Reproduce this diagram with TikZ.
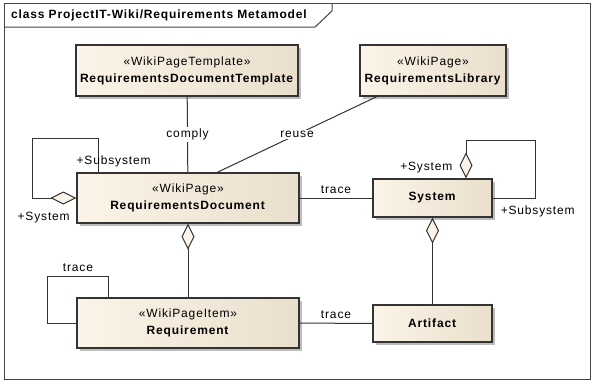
\documentclass[tikz,border=0pt]{standalone}
\usepackage{fontspec}
\setmainfont{Liberation Sans}[LetterSpace=7]
\usetikzlibrary{arrows.meta,shadows,calc}
\definecolor{boxl}{HTML}{FBF4E8}
\definecolor{boxr}{HTML}{EADFCC}
\definecolor{edge}{HTML}{333333}
\definecolor{shad}{HTML}{BDBDBD}
\definecolor{frm}{HTML}{444444}
\begin{document}
\begin{tikzpicture}[x=1pt,y=-1pt,
  cls/.style={draw=edge, line width=1.1pt, left color=boxl, right color=boxr,
    drop shadow={shadow xshift=3pt, shadow yshift=-3pt, fill=shad, opacity=1},
    align=center, font=\fontsize{12}{17}\selectfont, inner sep=0pt},
  lbl/.style={font=\fontsize{12}{14}\selectfont, inner sep=1pt, text=black},
  conn/.style={draw=edge, line width=1pt},
  agg/.style={{Diamond[fill=boxl, length=26pt, width=13pt, line width=1pt]}-}
]
\useasboundingbox (0,0) rectangle (593,383);
% frame
\draw[frm, line width=1pt] (4,3) rectangle (590,379);
\draw[frm, line width=1pt] (4,27) -- (315,27) -- (332,11) -- (332,3);
\node[lbl, anchor=west, font=\fontsize{12}{14}\selectfont\bfseries] (title) at (10,15) {class ProjectIT-Wiki/Requirements Metamodel};
% classes
\node[cls, minimum width=222pt, minimum height=51pt] (rdt) at (187,70.5) {«WikiPageTemplate»\\\textbf{RequirementsDocumentTemplate}};
\node[cls, minimum width=146pt, minimum height=51pt] (rl) at (433,70.5) {«WikiPage»\\\textbf{RequirementsLibrary}};
\node[cls, minimum width=222pt, minimum height=50pt] (rd) at (188,198) {«WikiPage»\\\textbf{RequirementsDocument}};
\node[cls, minimum width=119pt, minimum height=38pt] (sys) at (432.5,198) {\textbf{System}};
\node[cls, minimum width=222pt, minimum height=50pt] (req) at (188,323) {«WikiPageItem»\\\textbf{Requirement}};
\node[cls, minimum width=119pt, minimum height=37pt] (art) at (432.5,323.5) {\textbf{Artifact}};
% connectors
\draw[conn] (rdt) -- node[lbl, fill=white, inner sep=2pt] {comply} (rd);
\draw[conn] ($(rd.north)+(29,0)$) -- node[lbl, fill=white, inner sep=1pt] {reuse} ($(rl.south)+(-56,0)$);
\draw[conn] (rd.east) -- node[lbl, above=3pt] {trace} (sys.west);
\draw[conn] (req.east) -- node[lbl, above=3pt] {trace} (art.west);
\draw[conn, agg] (rd.south) -- (req.north);
\draw[conn, agg] (sys.south) -- (art.north);
% self associations
\draw[conn, agg] (rd.west) -- ++(-44,0) |- ($(rd.north west)+(22,-34)$) -- ($(rd.north west)+(22,0)$);
\node[lbl, anchor=west] (rdsub) at ($(rd.north west)+(-1,-11)$) {+Subsystem};
\node[lbl, anchor=west] (rdsys) at ($(rd.south west)+(-60,-6)$) {+System};
\draw[conn] (req.west) -- ++(-29,0) |- node[lbl, pos=0.75, above=3pt] {trace} ($(req.north west)+(32,-21)$) -- ($(req.north west)+(32,0)$);
\draw[conn, agg] ($(sys.north)+(33.5,0)$) -- ++(0,-38) -| ($(sys.east)+(43,0)$) -- (sys.east);
\node[lbl, anchor=east] (syssys) at ($(sys.north)+(21,-11)$) {+System};
\node[lbl, anchor=west] (syssub) at ($(sys.south east)+(7,-6)$) {+Subsystem};
\end{tikzpicture}
\end{document}
